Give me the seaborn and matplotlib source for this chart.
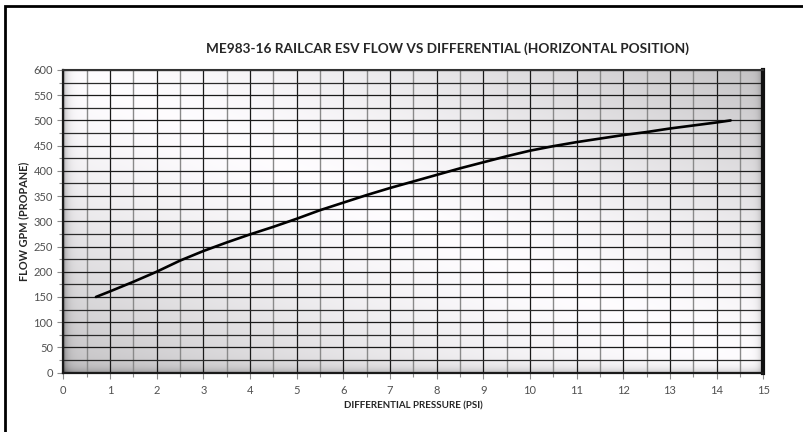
import numpy as np
import pandas as pd
import matplotlib.pyplot as plt
from matplotlib.patches import Rectangle
from matplotlib.ticker import MultipleLocator
import seaborn as sns

pressure_psi = [0.7, 1, 1.5, 2, 2.5, 3, 3.5, 4, 4.5, 5, 5.5, 6, 6.5, 7, 7.5,
                8, 8.5, 9, 9.5, 10, 10.5, 11, 11.5, 12, 12.5, 13, 13.5, 14, 14.3]
flow_gpm = [150, 161, 180, 200, 222, 241, 258, 274, 289, 305, 322, 337, 352, 366, 379,
            392, 405, 417, 429, 440, 449, 457, 464, 471, 477, 484, 490, 496, 500]

df = pd.DataFrame({'psi': pressure_psi, 'gpm': flow_gpm})

sns.set_style('white')
plt.rcParams['font.family'] = ['Lato', 'DejaVu Sans']

fig = plt.figure(figsize=(8.04, 4.32), dpi=100)
ax = fig.add_axes([63.3/804, 1 - 372.6/432, 700/804, 302.6/432])

# shaded background, light along the main diagonal, grey in the other corners
u, v = np.meshgrid(np.linspace(0, 1, 300), np.linspace(1, 0, 200))
shade = 1 - 0.23 * np.abs(u + v - 1) ** 1.4
# bevel at the left and bottom edges
shade -= 0.22 * np.exp(-u * 700 / 4)
shade -= 0.18 * np.exp(-v * 300 / 4)
shade -= 0.2 * np.exp(-(1 - u) * 700 / 3)
shade = np.clip(shade, 0, 1)
rgb = np.dstack([shade * 0.997, shade * 0.99, shade])
ax.imshow(rgb, extent=(0, 1, 0, 1), transform=ax.transAxes, aspect='auto',
          zorder=0, interpolation='bilinear')

sns.lineplot(data=df, x='psi', y='gpm', ax=ax, color='black', linewidth=1.9, zorder=5)

ax.set_xlim(0, 15)
ax.set_ylim(0, 600)
ax.xaxis.set_major_locator(MultipleLocator(1))
ax.xaxis.set_minor_locator(MultipleLocator(0.5))
ax.yaxis.set_major_locator(MultipleLocator(50))
ax.yaxis.set_minor_locator(MultipleLocator(25))

ax.grid(which='major', axis='both', color='#1a1a1a', linewidth=0.9, zorder=1)
ax.grid(which='minor', axis='x', color='#8a8a8a', linewidth=1.0, zorder=1)
ax.grid(which='minor', axis='y', color='#2a2a2a', linewidth=0.9, zorder=1)
ax.set_axisbelow(True)

ax.tick_params(which='both', direction='out', color='#8c8c8c', labelcolor='#505050',
               labelsize=8, bottom=True, left=True)
ax.tick_params(which='major', length=4, width=0.8)
ax.tick_params(which='minor', length=3, width=0.8)
ax.tick_params(axis='x', pad=5)

for side in ['left', 'bottom']:
    ax.spines[side].set_color('#1a1a1a')
    ax.spines[side].set_linewidth(1.6)
ax.spines['top'].set_color('#333333')
ax.spines['top'].set_linewidth(1.5)
ax.spines['right'].set_color('#111111')
ax.spines['right'].set_linewidth(3)

ax.set_xlabel('DIFFERENTIAL PRESSURE (PSI)', fontsize=7, fontweight='bold',
              color='#262626', labelpad=4)
ax.set_ylabel('FLOW GPM (PROPANE)', fontsize=7.8, fontweight='bold',
              color='#262626', labelpad=3)

fig.text(448/804, 1 - 49/432, 'ME983-16 RAILCAR ESV FLOW VS DIFFERENTIAL (HORIZONTAL POSITION)',
         ha='center', va='center', fontsize=9.8, fontweight='bold', color='#262626')

# outer chart frame
fig.add_artist(Rectangle((5/804, -0.5), 2, 1.5 - 6/432, transform=fig.transFigure,
                         fill=False, edgecolor='black', linewidth=2))

fig.savefig('out.png', dpi=100)
